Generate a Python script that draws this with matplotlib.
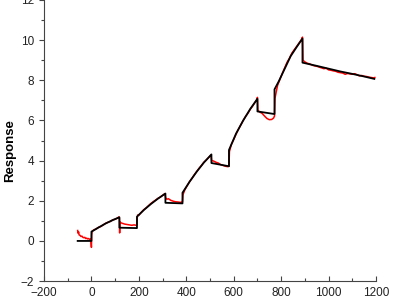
import matplotlib
matplotlib.use('Agg')
import matplotlib.pyplot as plt
from matplotlib.ticker import MultipleLocator

# fitted curve (black)
fit_t = [-58, 0, 0, 30, 60, 90, 118, 118, 192, 192, 222, 252, 282, 312, 312, 384,
         384, 414, 444, 474, 506, 506, 580, 580, 610, 640, 670, 700, 700, 772,
         772, 790, 810, 840, 865, 890, 890, 950, 1000, 1050, 1100, 1150, 1193]
fit_y = [0.0, 0.0, 0.46, 0.67, 0.87, 1.04, 1.18, 0.66, 0.64, 1.21, 1.55, 1.85, 2.12, 2.36, 1.90, 1.87,
         2.40, 2.95, 3.45, 3.90, 4.31, 3.88, 3.72, 4.53, 5.35, 6.00, 6.58, 7.08, 6.45, 6.32,
         7.55, 7.95, 8.45, 9.20, 9.65, 10.08, 8.88, 8.72, 8.58, 8.44, 8.32, 8.19, 8.07]

# measured response (red)
data_t = [-58, -56, -54, -52, -48, -44, -40, -36, -32, -28, -24, -20, -16, -12, -8, -4, -2, 0, 1, 3,
          10, 20, 30, 40, 50, 60, 70, 80, 90, 100, 110, 116, 118,
          119, 120, 125, 130, 140, 150, 160, 170, 180, 188, 192,
          193, 196, 200, 210, 220, 230, 240, 250, 260, 270, 280, 290, 300, 310,
          313, 318, 325, 335, 345, 355, 365, 375, 384,
          386, 394, 404, 414, 424, 434, 444, 454, 464, 474, 484, 494, 504,
          507, 515, 525, 535, 545, 555, 565, 575, 580,
          582, 590, 600, 610, 620, 630, 640, 650, 660, 670, 680, 690, 698, 700,
          702, 710, 720, 730, 740, 750, 760, 768, 772,
          774, 778, 785, 795, 805, 815, 825, 835, 845, 855, 865, 875, 885, 890,
          892, 900, 910, 920, 930, 940, 950, 960, 970, 980, 990, 1000, 1010, 1020,
          1030, 1040, 1050, 1060, 1070, 1080, 1090, 1100, 1110, 1120, 1130, 1140,
          1150, 1160, 1170, 1180, 1190, 1195]
data_y = [0.52, 0.38, 0.45, 0.30, 0.28, 0.22, 0.24, 0.18, 0.16, 0.18, 0.12, 0.14, 0.10, 0.12, 0.08, 0.10, 0.02, -0.32, 0.30, 0.48,
          0.55, 0.60, 0.68, 0.72, 0.80, 0.88, 0.93, 0.97, 1.05, 1.08, 1.14, 1.20, 1.12,
          0.40, 0.95, 0.90, 0.88, 0.84, 0.82, 0.80, 0.78, 0.80, 0.78, 0.80,
          1.15, 1.30, 1.28, 1.42, 1.55, 1.64, 1.75, 1.86, 1.95, 2.03, 2.12, 2.18, 2.27, 2.36,
          2.15, 2.08, 2.10, 2.02, 1.98, 1.95, 1.94, 1.92, 1.95,
          2.30, 2.55, 2.75, 2.96, 3.12, 3.30, 3.46, 3.62, 3.76, 3.92, 4.03, 4.15, 4.28,
          4.00, 3.98, 3.92, 3.88, 3.80, 3.76, 3.72, 3.70, 3.72,
          4.45, 4.80, 5.05, 5.32, 5.56, 5.78, 6.00, 6.20, 6.36, 6.56, 6.72, 6.90, 7.05, 7.15,
          6.50, 6.42, 6.35, 6.22, 6.10, 6.04, 6.05, 6.12, 6.22,
          7.10, 7.35, 7.75, 8.05, 8.35, 8.62, 8.90, 9.10, 9.35, 9.52, 9.68, 9.85, 10.02, 10.15,
          9.00, 8.92, 8.85, 8.82, 8.76, 8.72, 8.70, 8.66, 8.62, 8.58, 8.60, 8.52, 8.50, 8.47,
          8.45, 8.40, 8.38, 8.36, 8.30, 8.34, 8.32, 8.30, 8.33, 8.28, 8.22, 8.24,
          8.20, 8.19, 8.16, 8.14, 8.12, 8.14]

plt.rcParams['font.family'] = ['Liberation Sans', 'DejaVu Sans']

fig = plt.figure(figsize=(4, 3), dpi=100)
ax = fig.add_axes([0.11, 0.063, 0.83, 0.937])

ax.plot(data_t, data_y, color='red', lw=1.1)
ax.plot(fit_t, fit_y, color='black', lw=1.3)

ax.set_xlim(-200, 1200)
ax.set_ylim(-2, 12)
ax.xaxis.set_major_locator(MultipleLocator(200))
ax.xaxis.set_minor_locator(MultipleLocator(100))
ax.yaxis.set_major_locator(MultipleLocator(2))
ax.yaxis.set_minor_locator(MultipleLocator(1))

for s in ('top', 'right'):
    ax.spines[s].set_visible(False)
for s in ('left', 'bottom'):
    ax.spines[s].set_color('#444444')
    ax.spines[s].set_linewidth(0.8)

ax.tick_params(axis='x', which='both', direction='in', colors='#444444', labelcolor='#222222',
               labelsize=8.5, pad=4)
ax.tick_params(axis='y', which='both', direction='out', colors='#444444', labelcolor='#222222',
               labelsize=8.5)
ax.tick_params(which='major', length=3.5, width=0.8)
ax.tick_params(which='minor', length=2, width=0.8)

ax.set_ylabel('Response', fontsize=9.5, fontweight='bold')
ax.yaxis.set_label_coords(-0.085, 0.465)

fig.savefig('out.png', dpi=100)
